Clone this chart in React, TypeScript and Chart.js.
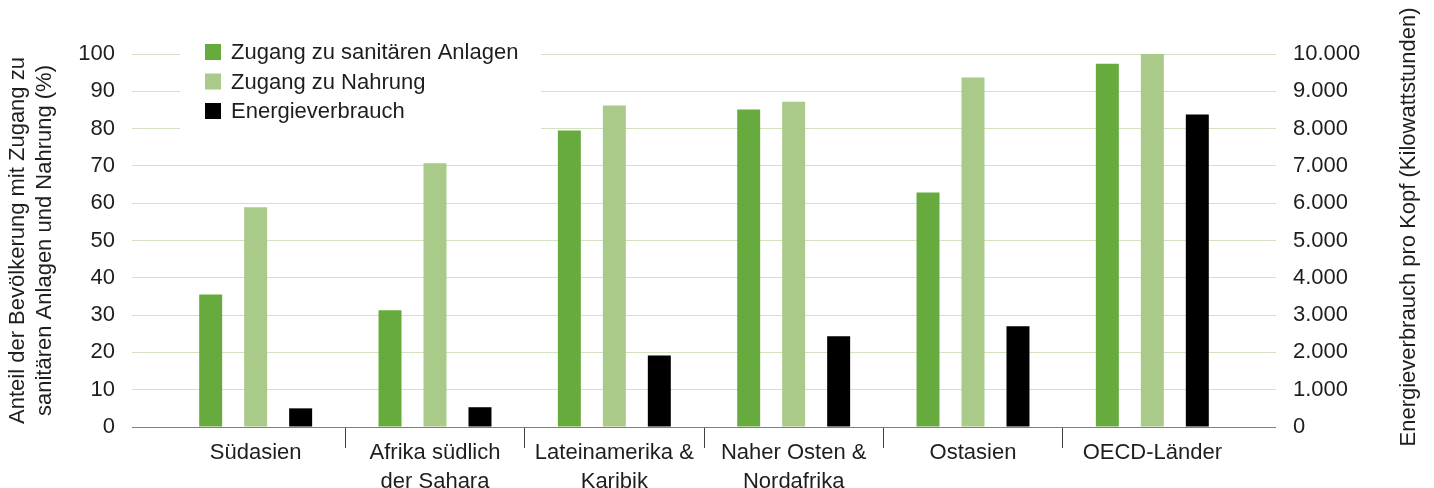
import React, { useEffect, useRef } from "react";
import { Chart, registerables } from "chart.js";

Chart.register(...registerables);

const categories: (string | string[])[] = [
  "Südasien",
  ["Afrika südlich", "der Sahara"],
  ["Lateinamerika &", "Karibik"],
  ["Naher Osten &", "Nordafrika"],
  "Ostasien",
  "OECD-Länder",
];
const sanitation = [35.5, 31.3, 79.5, 85.1, 62.9, 97.4];
const food = [58.9, 70.7, 86.2, 87.2, 93.7, 100];
const energy = [500, 530, 1920, 2430, 2700, 8380];

const seriesNames = ["Zugang zu sanitären Anlagen", "Zugang zu Nahrung", "Energieverbrauch"];
const seriesColors = ["#67ab3e", "#a9ca88", "#000000"];
const leftTitle = ["Anteil der Bevölkerung mit Zugang zu", "sanitären Anlagen und Nahrung (%)"];
const rightTitle = "Energieverbrauch pro Kopf (Kilowattstunden)";

const FONT = "'Liberation Sans', Arial, sans-serif";
const FS = 22;
const TEXT = "#1e1e1e";
const GRID = "#d3e3c2";
const AXIS = "#808080";

function fmtDE(v: number): string {
  const s = Math.round(v).toString();
  return s.replace(/\B(?=(\d{3})+(?!\d))/g, ".");
}

const overlayPlugin = {
  id: "overlay",
  afterDraw(chart: any) {
    const ctx = chart.ctx;
    ctx.save();
    // legend
    ctx.fillStyle = "#ffffff";
    ctx.fillRect(180, 44, 361, 92);
    ctx.font = `${FS}px ${FONT}`;
    ctx.textBaseline = "middle";
    ctx.textAlign = "left";
    const rows = [52, 81.5, 111];
    seriesNames.forEach((name, i) => {
      ctx.fillStyle = seriesColors[i];
      ctx.fillRect(205, rows[i] - 8, 16, 16);
      ctx.fillStyle = TEXT;
      ctx.fillText(name, 231, rows[i] + 1);
    });
    // right axis title
    ctx.translate(1409, 227);
    ctx.rotate(-Math.PI / 2);
    ctx.textAlign = "center";
    ctx.fillStyle = TEXT;
    ctx.fillText(rightTitle, 0, 0);
    ctx.restore();
  },
};

export default function App() {
  const ref = useRef<HTMLCanvasElement | null>(null);
  useEffect(() => {
    document.body.style.margin = "0";
    if (!ref.current) return;
    const gridColor = (c: any) => (c.tick && c.tick.value === 0 ? AXIS : GRID);
    const chart = new Chart(ref.current, {
      type: "bar",
      data: {
        labels: categories,
        datasets: [
          { label: seriesNames[0], data: sanitation, backgroundColor: seriesColors[0], yAxisID: "y" },
          { label: seriesNames[1], data: food, backgroundColor: seriesColors[1], yAxisID: "y" },
          { label: seriesNames[2], data: energy, backgroundColor: seriesColors[2], yAxisID: "y2" },
        ],
      },
      options: {
        animation: false,
        responsive: false,
        devicePixelRatio: 1,
        layout: { padding: { top: 54, bottom: 0, left: 0, right: 0 } },
        datasets: { bar: { categoryPercentage: 0.7525, barPercentage: 0.511, borderWidth: 0 } },
        plugins: { legend: { display: false }, tooltip: { enabled: false } },
        scales: {
          x: {
            type: "category",
            afterFit: (s: any) => { s.height = 61; },
            border: { display: false },
            grid: {
              offset: true,
              drawOnChartArea: false,
              drawTicks: true,
              tickLength: 21,
              lineWidth: 1,
              color: (c: any) => (c.type !== "tick" || c.index === 0 ? "rgba(0,0,0,0)" : "#404040"),
            },
            ticks: {
              padding: -9,
              maxRotation: 0,
              autoSkip: false,
              color: TEXT,
              font: { family: FONT, size: FS, lineHeight: 1.3 },
            },
          },
          y: {
            position: "left",
            min: 0,
            max: 100,
            afterFit: (s: any) => { s.width = 166; },
            border: { display: false },
            grid: { color: gridColor, lineWidth: 1, tickLength: 34, drawTicks: true },
            ticks: {
              stepSize: 10,
              padding: 17,
              color: TEXT,
              font: { family: FONT, size: FS },
            },
            title: {
              display: true,
              text: leftTitle,
              color: TEXT,
              padding: { top: 4, bottom: 0 },
              font: { family: FONT, size: FS, lineHeight: 1.23 },
            },
          },
          y2: {
            position: "right",
            min: 0,
            max: 10000,
            afterFit: (s: any) => { s.width = 192; },
            border: { display: false },
            grid: { color: gridColor, lineWidth: 1, tickLength: 34, drawTicks: true, drawOnChartArea: false },
            ticks: {
              stepSize: 1000,
              padding: 17,
              color: TEXT,
              font: { family: FONT, size: FS },
              callback: (v: any) => fmtDE(Number(v)),
            },
          },
        },
      },
      plugins: [overlayPlugin],
    } as any);
    return () => chart.destroy();
  }, []);
  return (
    <div style={{ width: 1434, height: 488, background: "#fff" }}>
      <canvas ref={ref} width={1434} height={488} style={{ display: "block", width: 1434, height: 488 }} />
    </div>
  );
}
